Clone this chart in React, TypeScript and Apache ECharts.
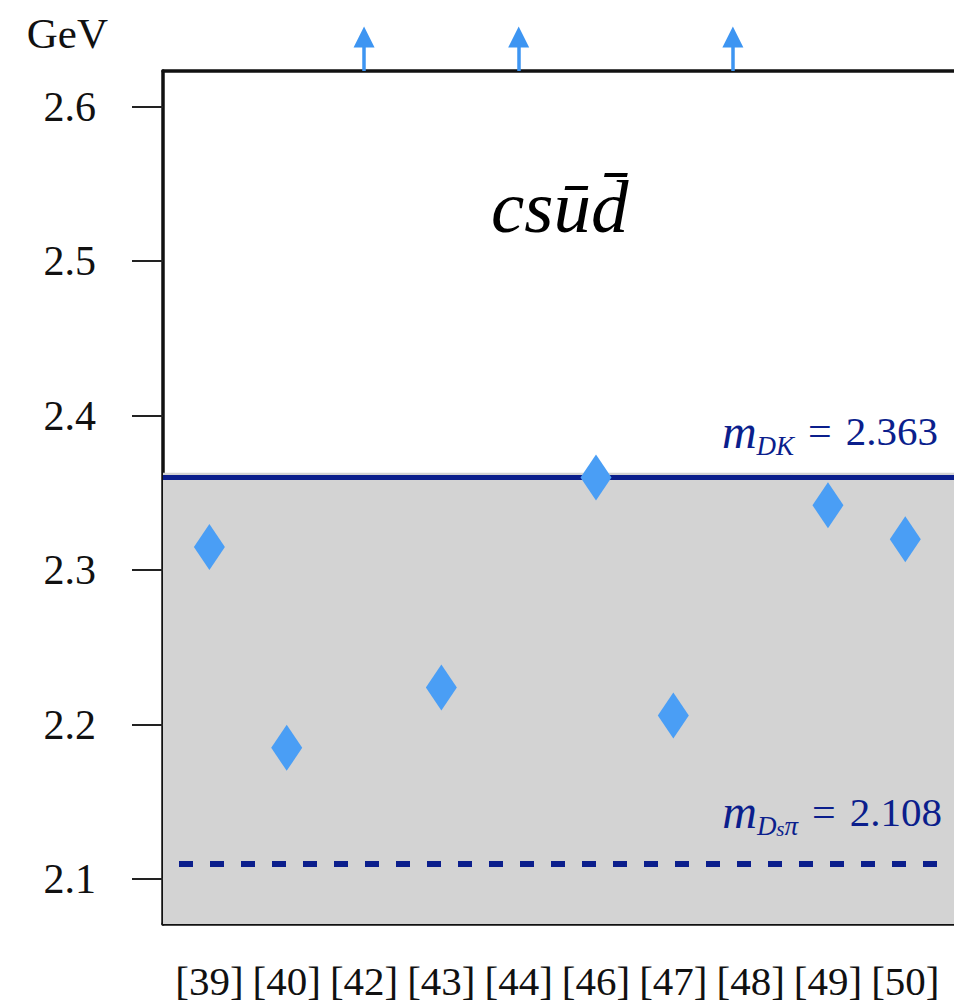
import React, { useEffect, useRef } from "react";
import * as echarts from "echarts";

// ---- data ----
const refs = ["[39]", "[40]", "[42]", "[43]", "[44]", "[46]", "[47]", "[48]", "[49]", "[50]"];
const masses: (number | null)[] = [2.315, 2.185, null, 2.224, null, 2.36, 2.206, null, 2.342, 2.32];
// results above the plotted range, drawn as arrows (x in category units)
const arrowAt = [2, 4, 6.77];
const mDK = 2.363;
const mDsPi = 2.108;
const yTicks = [2.1, 2.2, 2.3, 2.4, 2.5, 2.6];
const yMin = 2.071;
const yMax = 2.623;
const arrowTop = 2.645;

const SERIF = "Liberation Serif";
const NAVY = "#0b1e8c";
const BLUE = "#4a9ef5";

const subStyle = {
  fontFamily: SERIF,
  fontStyle: "italic",
  fontSize: 27,
  color: NAVY,
  lineHeight: 18,
  verticalAlign: "bottom",
};
const mStyle = { fontFamily: SERIF, fontStyle: "italic", fontSize: 48, color: NAVY, lineHeight: 56 };
const eqStyle = { fontFamily: SERIF, fontSize: 42, color: NAVY, padding: [0, 14, 0, 14] };
const numStyle = { fontFamily: SERIF, fontSize: 41, color: NAVY };

export default function App() {
  const ref = useRef<HTMLDivElement>(null);
  useEffect(() => {
    const chart = echarts.init(ref.current!, null, { renderer: "svg" });
    const xIdx = refs.map((_, i) => i);
    const points = masses
      .map((m, i) => (m == null ? null : [i, m]))
      .filter((p) => p !== null);
    chart.setOption({
      animation: false,
      backgroundColor: "#fff",
      title: {
        text: "cs\u016Bd\u0304",
        left: 486,
        top: 164,
        textStyle: {
          fontFamily: SERIF,
          fontStyle: "italic",
          fontWeight: "normal",
          fontSize: 75,
          color: "#000",
        },
      },
      grid: { left: 163, right: 0, top: 71, bottom: 84, show: false },
      xAxis: [
        {
          type: "value",
          min: -0.6,
          max: 9.63,
          position: "bottom",
          splitLine: { show: false },
          axisLine: { show: true, onZero: false, lineStyle: { color: "#111", width: 3.5 } },
          axisTick: { show: false },
          axisLabel: {
            customValues: xIdx,
            formatter: (v: number) => refs[Math.round(v)] ?? "",
            fontFamily: SERIF,
            fontSize: 41,
            lineHeight: 34,
            color: "#111",
            margin: 40,
          },
        },
        {
          type: "value",
          min: -0.6,
          max: 9.63,
          position: "top",
          splitLine: { show: false },
          axisLine: { show: true, onZero: false, lineStyle: { color: "#111", width: 3.5 } },
          axisTick: { show: false },
          axisLabel: { show: false },
        },
      ],
      yAxis: {
        type: "value",
        min: yMin,
        max: yMax,
        name: "GeV",
        nameLocation: "end",
        nameGap: 16,
        nameTextStyle: {
          fontFamily: SERIF,
          fontSize: 43,
          color: "#111",
          align: "right",
          verticalAlign: "bottom",
          padding: [0, 55, 0, 0],
        },
        splitLine: { show: false },
        axisLine: { show: true, onZero: false, lineStyle: { color: "#111", width: 3.5 } },
        axisTick: {
          show: true,
          customValues: yTicks,
          length: 31,
          inside: false,
          lineStyle: { color: "#222", width: 2 },
        },
        axisLabel: {
          customValues: yTicks,
          formatter: (v: number) => v.toFixed(1),
          fontFamily: SERIF,
          fontSize: 42,
          color: "#111",
          margin: 67,
        },
      },
      series: [
        {
          type: "scatter",
          data: points,
          symbol: "diamond",
          symbolSize: [31, 46],
          itemStyle: { color: BLUE, opacity: 1 },
          z: 5,
          markArea: {
            silent: true,
            itemStyle: { color: "#d3d3d3", opacity: 1 },
            data: [[{ yAxis: yMin }, { yAxis: mDK }]],
          },
          markLine: {
            silent: true,
            symbol: "none",
            data: [
              {
                yAxis: mDK,
                lineStyle: { color: NAVY, width: 5, type: "solid", opacity: 1 },
                label: {
                  show: true,
                  position: "insideEndTop",
                  distance: [16, 18],
                  formatter: "{m|m}{s|DK}{e|=}{n|" + mDK.toFixed(3) + "}",
                  rich: { m: mStyle, s: subStyle, e: eqStyle, n: numStyle },
                },
              },
              {
                yAxis: mDsPi,
                lineStyle: { color: NAVY, width: 6, type: [14, 17], dashOffset: 15, opacity: 1 },
                label: {
                  show: true,
                  position: "insideEndTop",
                  distance: [12, 24],
                  formatter: "{m|m}{s|D}{ss|s}{s|\u03C0}{e|=}{n|" + mDsPi.toFixed(3) + "}",
                  rich: {
                    m: mStyle,
                    s: subStyle,
                    ss: {
                      fontFamily: SERIF,
                      fontStyle: "italic",
                      fontSize: 21,
                      color: NAVY,
                      lineHeight: 4,
                      verticalAlign: "bottom",
                    },
                    e: eqStyle,
                    n: numStyle,
                  },
                },
              },
            ],
          },
        },
        {
          type: "lines",
          coordinateSystem: "cartesian2d",
          clip: false,
          silent: true,
          symbol: ["none", "triangle"],
          symbolSize: 21,
          lineStyle: { color: "#3d95f2", width: 3.5, opacity: 1 },
          itemStyle: { color: "#3d95f2" },
          data: arrowAt.map((x) => ({ coords: [[x, yMax], [x, arrowTop]] })),
          z: 6,
        },
      ],
    });
    return () => chart.dispose();
  }, []);
  return (
    <div
      ref={ref}
      style={{ position: "absolute", left: 0, top: 0, width: 954, height: 1008 }}
    />
  );
}
